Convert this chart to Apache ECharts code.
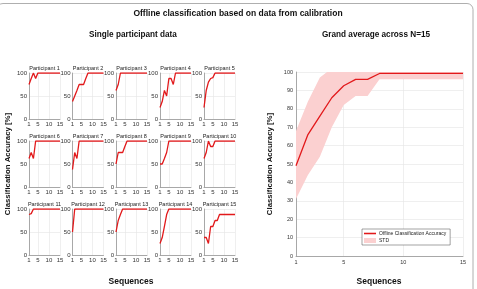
<!DOCTYPE html>
<html>
<head>
<meta charset="utf-8">
<script src="https://cdn.jsdelivr.net/npm/echarts@6/dist/echarts.min.js"></script>
<style>
  html, body { margin: 0; padding: 0; background: #fff; }
  #main { width: 477px; height: 289px; }
</style>
</head>
<body>
<div id="main"></div>
<script>
  // sequences on the x axis
  const sequences = [1, 2, 3, 4, 5, 6, 7, 8, 9, 10, 11, 12, 13, 14, 15];
  const xTicks = [1, 5, 10, 15];

  // single participant accuracy [%]
  const p1 = [75, 88, 100, 88, 100, 100, 100, 100, 100, 100, 100, 100, 100, 100, 100];
  const p2 = [38, 50, 62, 75, 75, 75, 88, 100, 100, 100, 100, 100, 100, 100, 100];
  const p3 = [62, 75, 100, 100, 100, 100, 100, 100, 100, 100, 100, 100, 100, 100, 100];
  const p4 = [25, 38, 62, 50, 88, 88, 75, 100, 100, 100, 100, 100, 100, 100, 100];
  const p5 = [25, 62, 80, 88, 90, 100, 100, 100, 100, 100, 100, 100, 100, 100, 100];
  const p6 = [62, 75, 62, 100, 100, 100, 100, 100, 100, 100, 100, 100, 100, 100, 100];
  const p7 = [38, 75, 62, 100, 100, 100, 100, 100, 100, 100, 100, 100, 100, 100, 100];
  const p8 = [50, 75, 75, 75, 88, 100, 100, 100, 100, 100, 100, 100, 100, 100, 100];
  const p9 = [50, 50, 62, 75, 100, 100, 100, 100, 100, 100, 100, 100, 100, 100, 100];
  const p10 = [62, 75, 100, 88, 88, 100, 100, 100, 100, 100, 100, 100, 100, 100, 100];
  const p11 = [88, 90, 100, 100, 100, 100, 100, 100, 100, 100, 100, 100, 100, 100, 100];
  const p12 = [50, 100, 100, 100, 100, 100, 100, 100, 100, 100, 100, 100, 100, 100, 100];
  const p13 = [50, 75, 88, 100, 100, 100, 100, 100, 100, 100, 100, 100, 100, 100, 100];
  const p14 = [25, 38, 62, 88, 100, 100, 100, 100, 100, 100, 100, 100, 100, 100, 100];
  const p15 = [38, 38, 25, 62, 62, 75, 75, 88, 88, 88, 88, 88, 88, 88, 88];
  const participants = [p1, p2, p3, p4, p5, p6, p7, p8, p9, p10, p11, p12, p13, p14, p15];

  // grand average and std band
  const grandMean = [49, 66, 76, 86, 92.5, 96, 96, 99.2, 99.2, 99.2, 99.2, 99.2, 99.2, 99.2, 99.2];
  const stdLow = [31, 44, 54, 70, 82, 87, 87, 96, 96, 96, 96, 96, 96, 96, 96];
  const stdHigh = [68, 84, 97, 102, 103, 105, 105, 102, 102, 102, 102, 102, 102, 102, 102];

  const RED = '#e2191b';
  const BAND = '#fbd0d0';
  const FONT = 'Liberation Sans';

  // layout of the 5x3 small panels
  const colLeft = [29, 72.5, 116, 160, 204];
  const rowTop = [73, 141, 209];
  const panelW = 31, panelH = 46;

  var myChart = echarts.init(document.getElementById('main'), null, { renderer: 'canvas' });

  const grids = [], xAxes = [], yAxes = [], series = [], graphics = [];

  participants.forEach((vals, i) => {
    const left = colLeft[i % 5], top = rowTop[Math.floor(i / 5)];
    grids.push({ left: left, top: top, width: panelW, height: panelH });
    xAxes.push({
      gridIndex: i, type: 'value', min: 1, max: 15, splitNumber: 3,
      axisLine: { lineStyle: { color: '#8a8a8a', width: 0.7 } },
      axisTick: { show: false },
      axisLabel: { customValues: xTicks, fontSize: 6, color: '#333', margin: 2, fontFamily: FONT },
      splitLine: { show: true, lineStyle: { color: '#e4e4e4', width: 0.6 } }
    });
    yAxes.push({
      gridIndex: i, type: 'value', min: 0, max: 100, interval: 50,
      axisLine: { show: true, lineStyle: { color: '#8a8a8a', width: 0.7 } },
      axisTick: { show: false },
      axisLabel: { fontSize: 6, color: '#333', margin: 2, fontFamily: FONT },
      splitLine: { show: true, lineStyle: { color: '#e4e4e4', width: 0.6 } }
    });
    series.push({
      type: 'line', xAxisIndex: i, yAxisIndex: i, symbol: 'none',
      data: sequences.map((s, k) => [s, vals[k]]),
      lineStyle: { color: RED, width: 1.3 }
    });
    graphics.push({
      type: 'text', x: left + panelW / 2, y: top - 8,
      style: { text: 'Participant ' + (i + 1), fontSize: 5.5, fill: '#222', align: 'center', fontFamily: FONT }
    });
  });

  // grand average panel
  const gi = 15;
  grids.push({ left: 296, top: 72, width: 167, height: 184 });
  xAxes.push({
    gridIndex: gi, type: 'value', min: 1, max: 15, splitNumber: 3,
    axisLine: { lineStyle: { color: '#8a8a8a', width: 0.7 } },
    axisTick: { show: false },
    axisLabel: { customValues: xTicks, fontSize: 5.5, color: '#333', margin: 3, fontFamily: FONT },
    splitLine: { show: true, lineStyle: { color: '#e4e4e4', width: 0.6 } }
  });
  yAxes.push({
    gridIndex: gi, type: 'value', min: 0, max: 100, interval: 10,
    axisLine: { show: true, lineStyle: { color: '#8a8a8a', width: 0.7 } },
    axisTick: { show: false },
    axisLabel: { fontSize: 5.5, color: '#333', margin: 3, fontFamily: FONT },
    splitLine: { show: true, lineStyle: { color: '#e4e4e4', width: 0.6 } }
  });
  // std band as a polygon through the axis scales
  series.push({
    name: 'STD', type: 'custom', xAxisIndex: gi, yAxisIndex: gi, clip: true,
    itemStyle: { color: BAND },
    data: [0],
    renderItem: function (params, api) {
      const upper = sequences.map((s, k) => api.coord([s, stdHigh[k]]));
      const lower = sequences.map((s, k) => api.coord([s, stdLow[k]])).reverse();
      return {
        type: 'polygon',
        shape: { points: upper.concat(lower) },
        style: { fill: BAND }
      };
    }
  });
  series.push({
    name: 'Offline Classification Accuracy', type: 'line', xAxisIndex: gi, yAxisIndex: gi, symbol: 'none',
    data: sequences.map((s, k) => [s, grandMean[k]]),
    lineStyle: { color: RED, width: 1.3 }, itemStyle: { color: RED }
  });

  // titles and axis names
  const boldText = (x, y, text, size, rot) => ({
    type: 'text', x: x, y: y, rotation: rot || 0,
    style: { text: text, fontSize: size, fontWeight: 'bold', fill: '#111', align: 'center', verticalAlign: 'middle', fontFamily: FONT }
  });
  graphics.push(
    { type: 'rect', shape: { x: -3, y: 3.5, width: 476, height: 295, r: 6 }, style: { fill: 'none', stroke: '#9a9a9a', lineWidth: 0.8 } },
    boldText(238, 14, 'Offline classification based on data from calibration', 8.5),
    boldText(133, 35, 'Single participant data', 8.2),
    boldText(376, 35, 'Grand average across N=15', 8.2),
    boldText(8, 164, 'Classification Accuracy [%]', 7.8, Math.PI / 2),
    boldText(270, 164, 'Classification Accuracy [%]', 7.8, Math.PI / 2),
    boldText(131, 282, 'Sequences', 8.5),
    boldText(379, 282, 'Sequences', 8.5)
  );

  myChart.setOption({
    animation: false,
    grid: grids,
    xAxis: xAxes,
    yAxis: yAxes,
    series: series,
    legend: {
      data: [
        { name: 'Offline Classification Accuracy', icon: 'path://M0,0H20V2.6H0Z', itemStyle: { color: RED } },
        { name: 'STD', icon: 'rect', itemStyle: { color: BAND } }
      ],
      left: 362, top: 229, orient: 'vertical',
      itemWidth: 12, itemHeight: 5, itemGap: 2, padding: [2, 4, 2, 2],
      borderColor: '#444', borderWidth: 0.5, borderRadius: 0, backgroundColor: '#fff',
      selectedMode: false,
      textStyle: { fontSize: 5, color: '#222', padding: [0, 0, 0, -2], fontFamily: FONT }
    },
    graphic: graphics
  });
</script>
</body>
</html>
